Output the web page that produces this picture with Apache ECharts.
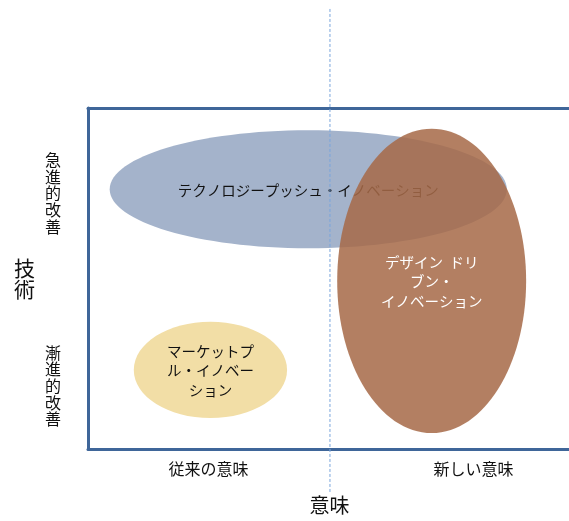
<!DOCTYPE html>
<html>
<head>
<meta charset="utf-8">
<script src="https://cdn.jsdelivr.net/npm/echarts@6/dist/echarts.min.js"></script>
<style>
html,body{margin:0;padding:0;background:#fff;}
#chart{width:569px;height:521px;}
</style>
</head>
<body>
<div id="chart"></div>
<script>
// ---- data ----
const ellipseLabels = ['テクノロジープッシュ・イノベーション', 'マーケットプ\nル・イノベー\nション', 'デザイン  ドリ\nブン・\nイノベーション'];
const centerX = [45.7, 25.4, 71.3];
const centerY = [76.2, 23.2, 49.3];
const radiusX = [41.2, 15.9, 19.6];
const radiusY = [17.3, 14.1, 44.6];
const meaningTickValues = [25, 80];
const meaningTickLabels = ['従来の意味', '新しい意味'];
const techTickValues = [75, 18.5];
const techTickLabels = ['急進的改善', '漸進的改善'];
const dividerX = [50.2];
const dividerSpan = [-12.6, 129.3];

const fills = ['rgba(164,179,203,1)', 'rgba(242,222,166,1)', 'rgba(166,106,72,0.86)'];
const textColors = ['#111111', '#111111', '#ffffff'];
const FONT = '"Noto Sans CJK JP", "Noto Sans", sans-serif';
const BORDER = {show: true, lineStyle: {color: '#3f6699', width: 3}};
const X_MAX = 105; // the plot box runs past the right edge of the picture

const ellipseData = ellipseLabels.map((n, i) => [centerX[i], centerY[i], radiusX[i], radiusY[i], i]);

const chart = echarts.init(document.getElementById('chart'), null, {renderer: 'canvas'});
chart.setOption({
  backgroundColor: '#ffffff',
  animation: false,
  textStyle: {fontFamily: FONT},
  grid: {left: 88, top: 108, width: 506.1, height: 341, show: false, containLabel: false, outerBoundsMode: 'none'},
  xAxis: [{
    type: 'value', min: 0, max: X_MAX, interval: 5, position: 'bottom',
    axisLine: BORDER, axisTick: {show: false}, splitLine: {show: false},
    axisLabel: {
      margin: 12, fontSize: 16, color: '#111', fontFamily: FONT,
      formatter: v => { const k = meaningTickValues.indexOf(v); return k >= 0 ? meaningTickLabels[k] : ''; }
    },
    name: '意味', nameLocation: 'middle', nameGap: 46,
    nameTextStyle: {fontSize: 20, color: '#111', fontFamily: FONT, padding: [0, 23, 0, 0]}
  }, {
    type: 'value', min: 0, max: X_MAX, interval: 5, position: 'top',
    axisLine: BORDER, axisTick: {show: false}, splitLine: {show: false}, axisLabel: {show: false}
  }],
  yAxis: {
    type: 'value', min: 0, max: 100, interval: 0.5,
    axisLine: BORDER, axisTick: {show: false}, splitLine: {show: false},
    axisLabel: {
      margin: 35, fontSize: 16, lineHeight: 16.6, color: '#111', fontFamily: FONT, align: 'center',
      formatter: v => { const k = techTickValues.indexOf(v); return k >= 0 ? techTickLabels[k].split('').join('\n') : ''; }
    },
    name: '技\n術', nameLocation: 'middle', nameGap: 53, nameRotate: 0,
    nameTextStyle: {fontSize: 21, lineHeight: 21, color: '#111', fontFamily: FONT}
  },
  series: [
    {
      type: 'custom',
      coordinateSystem: 'cartesian2d',
      clip: false,
      data: ellipseData,
      renderItem: function (params, api) {
        const idx = api.value(4);
        const c = api.coord([api.value(0), api.value(1)]);
        const s = api.size([api.value(2), api.value(3)]);
        return {
          type: 'group',
          children: [
            {type: 'ellipse', shape: {cx: c[0], cy: c[1], rx: s[0], ry: s[1]}, style: {fill: fills[idx]}},
            {type: 'text', x: c[0], y: c[1] + 1, style: {text: ellipseLabels[idx], fill: textColors[idx], fontSize: 14.5, fontFamily: FONT, align: 'center', verticalAlign: 'middle', lineHeight: 19.5}}
          ]
        };
      }
    },
    {
      type: 'custom',
      coordinateSystem: 'cartesian2d',
      clip: false,
      z: 5,
      data: dividerX.map(x => [x, dividerSpan[0], dividerSpan[1]]),
      renderItem: function (params, api) {
        const p1 = api.coord([api.value(0), api.value(1)]);
        const p2 = api.coord([api.value(0), api.value(2)]);
        return {type: 'line', shape: {x1: p1[0], y1: p1[1], x2: p2[0], y2: p2[1]}, style: {stroke: '#7aa6dc', lineWidth: 1, lineDash: [3, 2]}};
      }
    }
  ]
});
</script>
</body>
</html>
